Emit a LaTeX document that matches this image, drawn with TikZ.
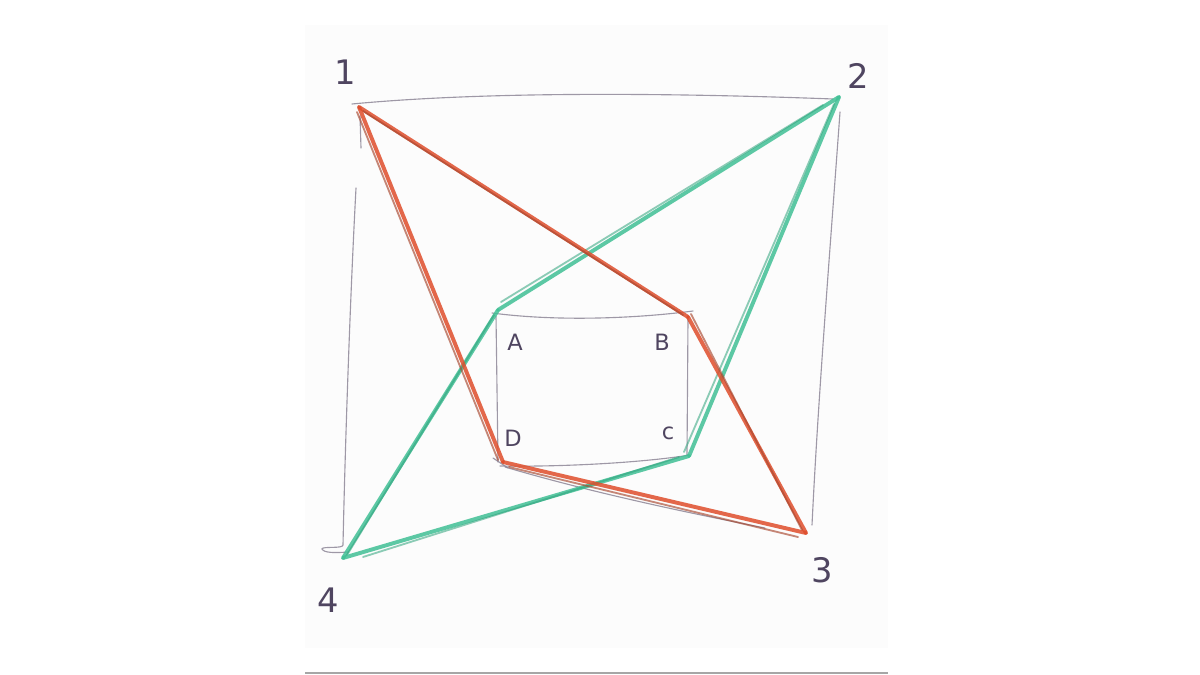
\documentclass[tikz,border=0pt]{standalone}
\usepackage{fontspec}
\setmainfont{DejaVu Sans}
\definecolor{paperc}{HTML}{FCFCFC}
\definecolor{pencilc}{HTML}{8E8798}
\definecolor{inkc}{HTML}{4F4560}
\definecolor{redc}{HTML}{DF4E2C}
\definecolor{redd}{HTML}{A8472F}
\definecolor{greenc}{HTML}{40C095}
\definecolor{greend}{HTML}{2FA37C}
\tikzset{
  paper/.style={fill=paperc},
  rulel/.style={draw=gray!70, line width=1.2pt},
  pencil/.style={draw=pencilc, line width=0.8pt, line cap=round, opacity=0.85},
  redpen/.style={draw=redc, line width=2.8pt, line cap=round, opacity=0.85},
  redpenb/.style={draw=redd, line width=1.3pt, line cap=round, opacity=0.65},
  greenpen/.style={draw=greenc, line width=2.8pt, line cap=round, opacity=0.85},
  greenpenb/.style={draw=greend, line width=1.3pt, line cap=round, opacity=0.55},
  biglabel/.style={text=inkc, font=\fontsize{24}{24}\selectfont, inner sep=0pt},
  smalllabel/.style={text=inkc, font=\fontsize{16}{16}\selectfont, inner sep=0pt}
}
\begin{document}
\begin{tikzpicture}[x=0.025cm,y=-0.025cm]
\useasboundingbox (0,0) rectangle (1200,675);
\fill[paper] (305,25) rectangle (888,648);
\draw[rulel] (305,673) -- (888,673);

% corner points
\coordinate (c1) at (359,107);
\coordinate (c2) at (839,97);
\coordinate (c3) at (806,533);
\coordinate (c4) at (343,558);
\coordinate (iA) at (498,310);
\coordinate (iB) at (688,317);
\coordinate (iC) at (689,456);
\coordinate (iD) at (503,462);

% outer pencil square
\draw[pencil] (352,104) .. controls (500,90) and (700,94) .. (833,99);
\draw[pencil] (360,116) -- (361,148);
\draw[pencil] (356,188) .. controls (350,300) and (345,450) .. (343,545)
   .. controls (343,549) and (322,546) .. (322,549) .. controls (324,553) and (335,553) .. (348,552);
\draw[pencil] (840,112) .. controls (830,250) and (818,400) .. (812,525);
\draw[pencil] (505,467) .. controls (600,495) and (700,515) .. (765,528);

% inner pencil rectangle
\draw[pencil] (492,313) .. controls (560,322) and (640,318) .. (693,311);
\draw[pencil] (496,316) -- (498,462);
\draw[pencil] (688,318) -- (687,455);
\draw[pencil] (493,458) -- (508,468);
\draw[pencil] (500,466) .. controls (560,467) and (640,463) .. (690,455);

% green strokes
\draw[greenpen] (c2) -- (iA);
\draw[greenpenb] ([shift={(-16,8)}]c2) -- ([shift={(3,-8)}]iA);
\draw[greenpen] (iA) -- (c4);
\draw[greenpenb] ([shift={(-4,5)}]iA) -- ([shift={(4,-3)}]c4);
\draw[greenpen] (c4) -- (iC);
\draw[greenpenb] ([shift={(20,-1)}]c4) -- ([shift={(-10,1)}]iC);
\draw[greenpen] (iC) -- (c2);
\draw[greenpenb] ([shift={(-5,-4)}]iC) -- ([shift={(-5,7)}]c2);

% red strokes
\draw[redpen] (c1) -- (iB);
\draw[redpenb] ([shift={(4,4)}]c1) -- ([shift={(-5,-2)}]iB);
\draw[redpen] (iB) -- (c3);
\draw[redpenb] ([shift={(3,-3)}]iB) -- ([shift={(-4,-3)}]c3);
\draw[redpen] (c3) -- (iD);
\draw[redpenb] ([shift={(-8,4)}]c3) -- ([shift={(6,5)}]iD);
\draw[redpen] (iD) -- (c1);
\draw[redpenb] ([shift={(-5,-2)}]iD) -- ([shift={(-2,5)}]c1);

% labels
\node[biglabel] (l1) at (345,72) {1};
\node[biglabel] (l2) at (858,76) {2};
\node[biglabel] (l3) at (822,570) {3};
\node[biglabel] (l4) at (328,600) {4};
\node[smalllabel] (lA) at (515,342) {A};
\node[smalllabel] (lB) at (662,342) {B};
\node[smalllabel] (lC) at (668,433) {c};
\node[smalllabel] (lD) at (513,438) {D};
\end{tikzpicture}
\end{document}
